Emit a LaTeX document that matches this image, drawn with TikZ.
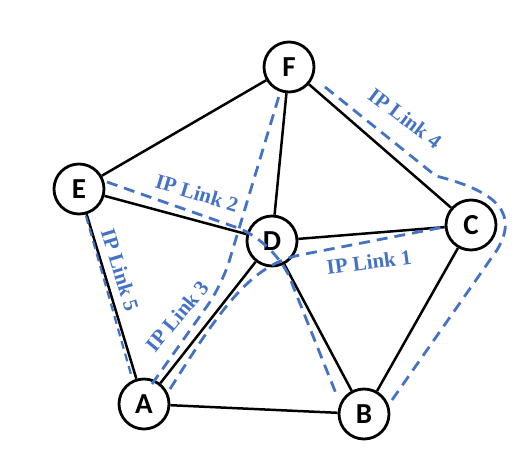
\documentclass[tikz,border=0pt]{standalone}
\usepackage{fontspec}
\setmainfont{Liberation Serif}
\newfontfamily\nodefont{Carlito}
\usetikzlibrary{backgrounds}
\definecolor{linkblue}{HTML}{4472C4}
\begin{document}
\begin{tikzpicture}[x=1pt,y=-1pt,
  nd/.style={circle,draw=black,line width=2.8pt,fill=white,minimum size=50pt,inner sep=0pt,font=\nodefont\bfseries\fontsize{29}{29}\selectfont},
  edge/.style={line width=2.5pt,black},
  iplink/.style={linkblue,line width=2.8pt,dash pattern=on 11pt off 7pt},
  thinlink/.style={linkblue,line width=2.2pt,dash pattern=on 8pt off 5pt},
  lbl/.style={text=linkblue,font=\bfseries\fontsize{21}{21}\selectfont,inner sep=0pt}]
\useasboundingbox (0,0) rectangle (526,452);
% nodes
\node[nd] (F) at (289,67) {F};
\node[nd] (E) at (79,189) {E};
\node[nd] (D) at (272,241) {D};
\node[nd] (C) at (471,225) {C};
\node[nd] (A) at (144,404) {A};
\node[nd] (B) at (364,414) {B};
% edges (behind the nodes)
\begin{scope}[on background layer]
\draw[edge] (F) -- (E);
\draw[edge] (F) -- (D);
\draw[edge] (F) -- (C);
\draw[edge] (E) -- (D);
\draw[edge] (E) -- (A);
\draw[edge] (D) -- (C);
\draw[edge] (D) -- (A);
\draw[edge] (D) -- (B);
\draw[edge] (A) -- (B);
\draw[edge] (B) -- (C);
\end{scope}
% link end points
\coordinate (l5s) at (86,216);
\coordinate (l5e) at (132,378);
\coordinate (l3s) at (152,384);
\coordinate (l3e) at (279,96);
\coordinate (l2s) at (107,182);
\coordinate (l2e) at (337,396);
\coordinate (l1s) at (170,389);
\coordinate (l1e) at (444,227);
\coordinate (l4s) at (325,87);
\coordinate (l4e) at (392,400);
% IP links (drawn over the nodes)
\draw[thinlink] (l5s) -- (l5e);
\draw[iplink,rounded corners=25pt] (l3s) -- (222,285) -- (l3e);
\draw[iplink,rounded corners=40pt] (l2s) -- (275,241) -- (l2e);
\draw[iplink] (l1s) .. controls (220,310) and (250,265) .. (300,255) -- (l1e);
\draw[iplink] (l4s) -- (436,176) .. controls (500,192) and (518,215) .. (497,250) -- (l4e);
% labels
\node[lbl,rotate=-37] (t4) at (405,118) {IP Link 4};
\node[lbl,rotate=-17] (t2) at (197,193) {IP Link 2};
\node[lbl,rotate=-73] (t5) at (120,270) {IP Link 5};
\node[lbl,rotate=50] (t3) at (177,316) {IP Link 3};
\node[lbl,rotate=7.5] (t1) at (369,262) {IP Link 1};
\end{tikzpicture}
\end{document}
